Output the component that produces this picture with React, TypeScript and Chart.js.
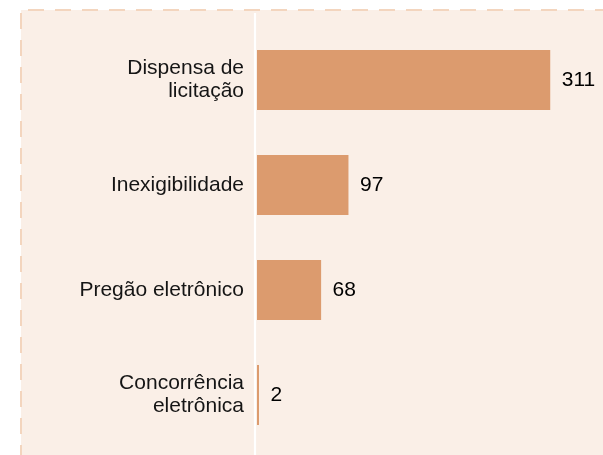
import React, { useEffect, useRef } from "react";
import { Chart, registerables } from "chart.js";

Chart.register(...registerables);

const categories: (string | string[])[] = [
  ["Dispensa de", "licitação"],
  "Inexigibilidade",
  "Pregão eletrônico",
  ["Concorrência", "eletrônica"],
];
const values: number[] = [311, 97, 68, 2];

const BG = "#FAEFE7";
const BAR = "#DC9B6E";
const DASH = "#F3D5BE";
const FONT = "'Liberation Sans', Arial, sans-serif";

const panelPlugin = {
  id: "panel",
  beforeDraw(chart: any) {
    const { ctx, width, height } = chart;
    ctx.save();
    ctx.fillStyle = BG;
    ctx.fillRect(21, 10, width - 21, height - 10);
    ctx.strokeStyle = DASH;
    ctx.lineWidth = 2;
    ctx.setLineDash([16, 11]);
    ctx.beginPath();
    ctx.moveTo(28, 10);
    ctx.lineTo(width, 10);
    ctx.stroke();
    ctx.beginPath();
    ctx.moveTo(21, 13);
    ctx.lineTo(21, height);
    ctx.stroke();
    ctx.setLineDash([]);
    // white axis line
    const x0 = chart.scales.x.getPixelForValue(0);
    ctx.strokeStyle = "#ffffff";
    ctx.lineWidth = 2.2;
    ctx.beginPath();
    ctx.moveTo(x0 - 2, 13);
    ctx.lineTo(x0 - 2, height);
    ctx.stroke();
    ctx.restore();
  },
};

const valueLabelPlugin = {
  id: "valueLabels",
  afterDatasetsDraw(chart: any) {
    const { ctx } = chart;
    const meta = chart.getDatasetMeta(0);
    ctx.save();
    ctx.fillStyle = "#000000";
    ctx.font = `21px ${FONT}`;
    ctx.textAlign = "left";
    ctx.textBaseline = "middle";
    meta.data.forEach((bar: any, i: number) => {
      ctx.fillText(String(values[i]), bar.x + 11.5, bar.y);
    });
    ctx.restore();
  },
};

export default function App() {
  const ref = useRef<HTMLCanvasElement | null>(null);
  useEffect(() => {
    if (!ref.current) return;
    const chart = new Chart(ref.current, {
      type: "bar",
      data: {
        labels: categories,
        datasets: [
          {
            data: values,
            backgroundColor: BAR,
            borderWidth: 0,
            barPercentage: 0.571,
            categoryPercentage: 1,
            minBarLength: 2,
          },
        ],
      },
      options: {
        indexAxis: "y",
        animation: false,
        responsive: false,
        devicePixelRatio: 1,
        layout: { padding: { left: 21, right: 16, top: 27.5, bottom: 7.5 } },
        plugins: {
          legend: { display: false },
          tooltip: { enabled: false },
        },
        scales: {
          x: {
            display: false,
            min: 0,
            max: 350,
          },
          y: {
            grid: { display: false, drawTicks: false, tickLength: 0 },
            border: { display: false },
            afterFit(scale: any) {
              scale.width = 236;
              scale.paddingTop = 0;
              scale.paddingBottom = 0;
            },
            ticks: {
              padding: 13,
              color: "#151515",
              font: { family: FONT, size: 21, lineHeight: 1.1 },
            },
          },
        },
      },
      plugins: [panelPlugin, valueLabelPlugin],
    });
    return () => chart.destroy();
  }, []);
  return (
    <div style={{ position: "absolute", left: 0, top: 0, width: 603, height: 455, background: "#fff" }}>
      <canvas ref={ref} width={603} height={455} style={{ display: "block", width: 603, height: 455 }} />
    </div>
  );
}
